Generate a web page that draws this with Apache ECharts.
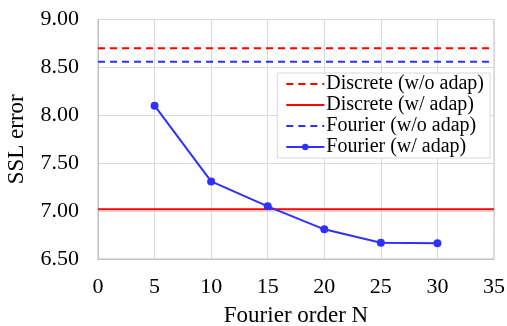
<!DOCTYPE html>
<html>
<head>
<meta charset="utf-8">
<script src="https://cdn.jsdelivr.net/npm/echarts@6/dist/echarts.min.js"></script>
<style>
  html, body { margin: 0; padding: 0; background: #fff; }
  #chart { width: 507px; height: 326px; }
</style>
</head>
<body>
<div id="chart"></div>
<script>
  // data
  const orders = [5, 10, 15, 20, 25, 30];
  const fourierAdap = [8.10, 7.31, 7.05, 6.81, 6.67, 6.665];
  const xRange = [0, 35];
  const discreteNoAdap = 8.70;
  const discreteAdap = 7.02;
  const fourierNoAdap = 8.56;
  const seriesNames = ["Discrete (w/o adap)", "Discrete (w/ adap)", "Fourier (w/o adap)", "Fourier (w/ adap)"];

  const RED = "#ff0000";
  const BLUE = "#3030ff";
  const FONT = "Liberation Serif";

  let chart = echarts.init(document.getElementById("chart"));

  function flat(v) {
    return xRange.map(x => [x, v]);
  }

  // legend entries: hide the dot for the plain lines
  let legendData = seriesNames.map((n, i) => (
    i < 3 ? { name: n, itemStyle: { opacity: 0 } } : { name: n }
  ));

  let option = {
    animation: false,
    textStyle: { fontFamily: FONT },
    grid: {
      left: 98,
      right: 13,
      top: 19.5,
      bottom: 67,
      outerBoundsMode: "none",
      show: true,
      borderColor: "#bfbfbf",
      borderWidth: 1
    },
    legend: {
      orient: "vertical",
      right: 17,
      top: 73,
      data: legendData,
      itemWidth: 38,
      itemHeight: 8,
      itemGap: 1,
      padding: [1, 6, 1, 8],
      backgroundColor: "#fff",
      borderColor: "#d9d9d9",
      borderWidth: 1,
      textStyle: { fontFamily: FONT, fontSize: 20, color: "#000", padding: [0, 0, 0, -3] }
    },
    xAxis: {
      type: "value",
      min: 0,
      max: 35,
      interval: 5,
      name: "Fourier order N",
      nameLocation: "middle",
      nameGap: 45,
      nameTextStyle: { fontFamily: FONT, fontSize: 23, color: "#000" },
      axisLine: { show: true, lineStyle: { color: "#bfbfbf" } },
      axisTick: { show: false },
      axisLabel: { fontFamily: FONT, fontSize: 22, color: "#000", margin: 17 },
      splitLine: { lineStyle: { color: "#d9d9d9" } }
    },
    yAxis: {
      type: "value",
      min: 6.5,
      max: 9.0,
      interval: 0.5,
      name: "SSL error",
      nameLocation: "middle",
      nameGap: 70,
      nameTextStyle: { fontFamily: FONT, fontSize: 23, color: "#000" },
      axisLine: { show: true, lineStyle: { color: "#bfbfbf" } },
      axisTick: { show: false },
      axisLabel: {
        fontFamily: FONT, fontSize: 22, color: "#000", margin: 19,
        formatter: v => v.toFixed(2)
      },
      splitLine: { lineStyle: { color: "#d9d9d9" } }
    },
    series: [
      {
        name: seriesNames[0],
        type: "line",
        data: flat(discreteNoAdap),
        symbol: "none",
        itemStyle: { color: RED },
        lineStyle: { color: RED, width: 2, type: [7, 5] }
      },
      {
        name: seriesNames[1],
        type: "line",
        data: flat(discreteAdap),
        symbol: "none",
        itemStyle: { color: RED },
        lineStyle: { color: RED, width: 2 }
      },
      {
        name: seriesNames[2],
        type: "line",
        data: flat(fourierNoAdap),
        symbol: "none",
        itemStyle: { color: BLUE },
        lineStyle: { color: BLUE, width: 2, type: [7, 5] }
      },
      {
        name: seriesNames[3],
        type: "line",
        data: orders.map((x, i) => [x, fourierAdap[i]]),
        symbol: "circle",
        symbolSize: 8,
        itemStyle: { color: BLUE },
        lineStyle: { color: BLUE, width: 2 }
      }
    ]
  };

  chart.setOption(option);
  window.addEventListener("resize", () => {
    chart.resize();
  });
</script>
</body>
</html>
